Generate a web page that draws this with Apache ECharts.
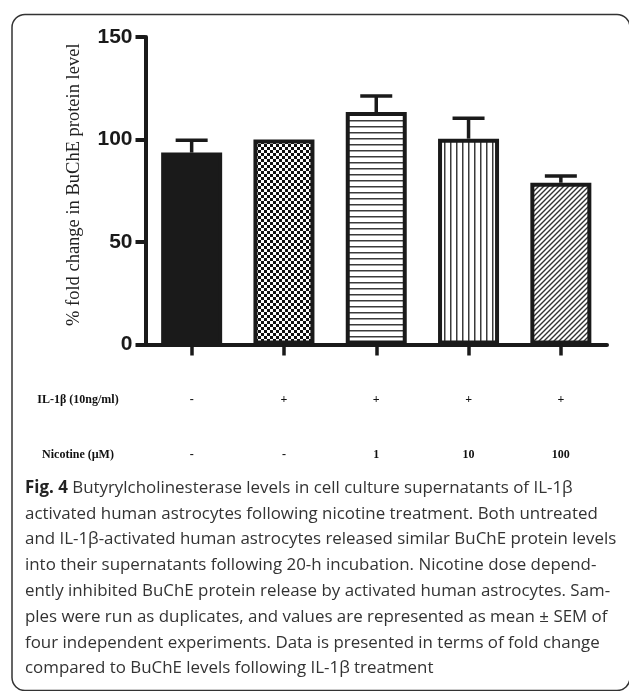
<!DOCTYPE html>
<html>
<head>
<meta charset="utf-8">
<script src="https://cdn.jsdelivr.net/npm/echarts@6/dist/echarts.min.js"></script>
<style>
html,body{margin:0;padding:0;background:#fff;}
#chart{width:629px;height:691px;}
</style>
</head>
<body>
<div id="chart"></div>
<script>
// ---- data ----
var categories = ['c1', 'c2', 'c3', 'c4', 'c5'];
var il1b = ['-', '+', '+', '+', '+'];
var nicotine = ['-', '-', '1', '10', '100'];
var meanValues = [93.6, 100, 113.4, 100.4, 78.9];
var semValues = [6, 0, 7.8, 10, 3.3];
var yTicks = [0, 50, 100, 150];
var rowLabels = ['IL-1\u03b2 (10ng/ml)', 'Nicotine (\u00b5M)'];
var yName = '% fold change in BuChE protein level';
var captionLines = [
  '{b|Fig. 4} Butyrylcholinesterase levels in cell culture supernatants of IL-1\u03b2',
  'activated human astrocytes following nicotine treatment. Both untreated',
  'and IL-1\u03b2-activated human astrocytes released similar BuChE protein levels',
  'into their supernatants following 20-h incubation. Nicotine dose depend-',
  'ently inhibited BuChE protein release by activated human astrocytes. Sam-',
  'ples were run as duplicates, and values are represented as mean \u00b1 SEM of',
  'four independent experiments. Data is presented in terms of fold change',
  'compared to BuChE levels following IL-1\u03b2 treatment'
];

// ---- patterns ----
function makeCanvas(w, h, draw) {
  var c = document.createElement('canvas');
  c.width = w; c.height = h;
  var ctx = c.getContext('2d');
  ctx.fillStyle = '#fff';
  ctx.fillRect(0, 0, w, h);
  draw(ctx);
  return c;
}
var checker = makeCanvas(6, 6, function (ctx) {
  ctx.fillStyle = '#111';
  ctx.fillRect(0, 0, 3, 3);
  ctx.fillRect(3, 3, 3, 3);
});
var hStripes = makeCanvas(6, 6, function (ctx) {
  ctx.fillStyle = '#3a3a3a';
  ctx.fillRect(0, 0, 6, 1.5);
});
var vStripes = makeCanvas(6, 6, function (ctx) {
  ctx.fillStyle = '#3a3a3a';
  ctx.fillRect(0, 0, 1.5, 6);
});
var diag = makeCanvas(5, 5, function (ctx) {
  ctx.strokeStyle = '#333';
  ctx.lineWidth = 1.4;
  ctx.beginPath();
  ctx.moveTo(-1, 6); ctx.lineTo(6, -1);
  ctx.moveTo(-1, 1); ctx.lineTo(1, -1);
  ctx.moveTo(4, 6); ctx.lineTo(6, 4);
  ctx.stroke();
});
var fills = [
  '#1a1a1a',
  { image: checker, repeat: 'repeat' },
  { image: hStripes, repeat: 'repeat' },
  { image: vStripes, repeat: 'repeat' },
  { image: diag, repeat: 'repeat' }
];

var barData = meanValues.map(function (v, i) {
  return { value: v, itemStyle: { color: fills[i] } };
});
var errData = meanValues.map(function (v, i) { return [i, v, semValues[i]]; });

var chart = echarts.init(document.getElementById('chart'), null, { renderer: 'canvas' });

var graphics = [
  {
    type: 'rect', left: 9.5, top: 12, silent: true, z: -1,
    shape: { x: 0, y: 0, width: 618, height: 676, r: 13 },
    style: { fill: 'none', stroke: '#333', lineWidth: 1.5 }
  },
  {
    type: 'text', x: 78, y: 400,
    style: { text: rowLabels[0], font: 'bold 12px "Liberation Serif"', fill: '#111', textAlign: 'center', textVerticalAlign: 'middle' }
  },
  {
    type: 'text', x: 78, y: 455,
    style: { text: rowLabels[1], font: 'bold 12px "Liberation Serif"', fill: '#111', textAlign: 'center', textVerticalAlign: 'middle' }
  }
];
captionLines.forEach(function (line, i) {
  graphics.push({
    type: 'text', x: 25, y: 488 + 25.8 * i,
    style: {
      text: line,
      fontFamily: 'Open Sans', fontSize: 16.9, fill: '#333',
      textAlign: 'left', textVerticalAlign: 'middle',
      rich: { b: { fontFamily: 'Open Sans', fontSize: 16.9, fontWeight: 'bold', fill: '#222' } }
    }
  });
});

var option = {
  animation: false,
  backgroundColor: '#fff',
  grid: { left: 145.5, top: 37, width: 461.5, height: 307.5 },
  xAxis: {
    type: 'category',
    data: categories,
    axisLine: { show: true, lineStyle: { color: '#1a1a1a', width: 4 } },
    axisTick: { show: true, alignWithLabel: true, length: 11, lineStyle: { color: '#1a1a1a', width: 3.5 } },
    axisLabel: {
      margin: 28,
      formatter: function (v, i) { return '{a|' + il1b[i] + '}\n{a|' + nicotine[i] + '}'; },
      rich: {
        a: { fontFamily: 'Liberation Serif', fontWeight: 'bold', fontSize: 12, color: '#111', lineHeight: 55, align: 'center' }
      }
    }
  },
  yAxis: {
    type: 'value',
    min: 0, max: 150, interval: 50,
    name: yName,
    nameLocation: 'middle',
    nameGap: 62,
    nameTextStyle: { fontFamily: 'Liberation Serif', fontSize: 18.5, color: '#222', padding: [0, 0, 0, 12] },
    axisLine: { show: true, lineStyle: { color: '#1a1a1a', width: 4 } },
    axisTick: { show: true, length: 10, lineStyle: { color: '#1a1a1a', width: 4 } },
    splitLine: { show: false },
    axisLabel: {
      margin: 13,
      fontFamily: 'Liberation Sans', fontWeight: 'bold', fontSize: 21, color: '#1a1a1a',
      formatter: function (v) { return yTicks.indexOf(v) >= 0 ? String(v) : ''; }
    }
  },
  series: [
    {
      type: 'bar',
      data: barData,
      barWidth: 61,
      itemStyle: { borderColor: '#1a1a1a', borderWidth: 4 },
      z: 2
    },
    {
      type: 'custom',
      data: errData,
      z: 3,
      renderItem: function (params, api) {
        var idx = api.value(0), v = api.value(1), e = api.value(2);
        if (!e) return null;
        var base = api.coord([idx, v]);
        var top = api.coord([idx, v + e]);
        var hw = 16;
        return {
          type: 'group',
          children: [
            { type: 'line', shape: { x1: base[0], y1: base[1], x2: top[0], y2: top[1] }, style: { stroke: '#1a1a1a', lineWidth: 3.5 } },
            { type: 'line', shape: { x1: top[0] - hw, y1: top[1], x2: top[0] + hw, y2: top[1] }, style: { stroke: '#1a1a1a', lineWidth: 3.5 } }
          ]
        };
      }
    }
  ],
  graphic: graphics
};
chart.setOption(option);
</script>
</body>
</html>
